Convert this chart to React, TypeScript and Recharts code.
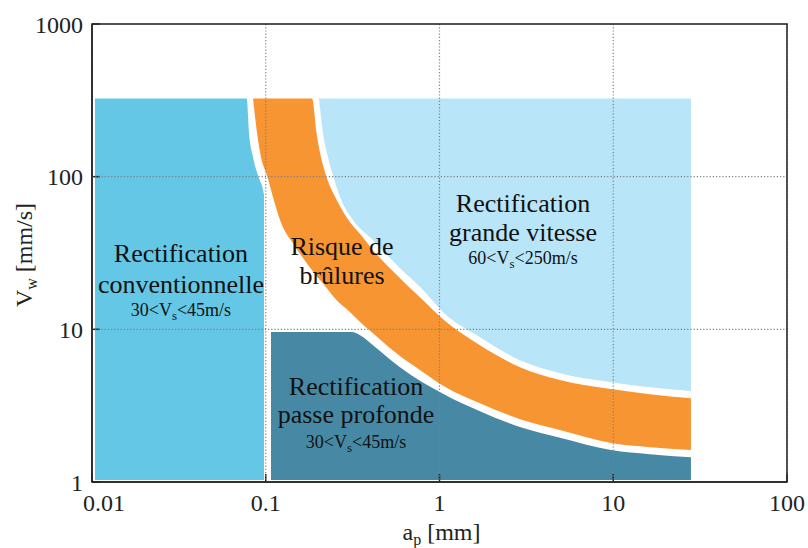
import {
  ComposedChart,
  Area,
  XAxis,
  YAxis,
  CartesianGrid,
  ReferenceArea,
  ReferenceDot,
} from "recharts";

const FONT = "'Liberation Serif', 'Times New Roman', serif";

// --- axes (log-log) ---
const apTicks = [0.01, 0.1, 1, 10, 100];
const vwTicks = [1, 10, 100, 1000];

// bottom / top of the coloured domains [mm/s]
const floorVw = 1.03;
const roofVw = 325;

// --- Rectification conventionnelle ---
const convAp = [0.0104, 0.0777, 0.0801, 0.0845, 0.0902, 0.0964, 0.0977];
const convTop = [325, 325, 193, 134, 102, 82, 76];

// --- Risque de brûlures (band) ---
const burnAp = [
  0.0845, 0.0891, 0.0939, 0.1017, 0.11, 0.1208, 0.147, 0.1846, 0.196, 0.208, 0.222, 0.256,
  0.305, 0.349, 0.414, 0.577, 0.804, 1.061, 1.71, 2.906, 4.937, 9.706, 16.27, 28,
];
const burnLow = [
  325, 193, 134, 102, 73.5, 52, 35.1, 24.4, 22.3, 20.7, 18.9, 15.5,
  13.0, 11.15, 9.44, 6.83, 5.24, 4.24, 3.28, 2.58, 2.19, 1.8, 1.69, 1.62,
];
const burnHigh = [
  325, 325, 325, 325, 325, 325, 325, 325, 193, 134, 102, 70.3,
  50.4, 42.1, 33.0, 22.3, 15.5, 11.5, 7.88, 5.65, 4.65, 4.06, 3.76, 3.54,
];

// --- Rectification grande vitesse ---
const fastAp = [
  0.2025, 0.2136, 0.2282, 0.2438, 0.2675, 0.3178, 0.414, 0.577, 0.804, 1.061, 1.71, 2.906,
  4.937, 9.706, 16.27, 28,
];
const fastLow = [325, 193, 134, 102, 73.5, 52, 38.4, 25.9, 18.1, 12.8, 8.89, 6.28, 5.16, 4.51, 4.18, 3.94];

// --- Rectification passe profonde ---
const deepAp = [0.1072, 0.3125, 0.349, 0.414, 0.592, 1.061, 1.71, 2.906, 4.937, 9.706, 16.27, 28];
const deepTop = [9.6, 9.6, 9.16, 7.88, 5.65, 3.76, 2.91, 2.29, 1.95, 1.62, 1.52, 1.45];

const convData = convAp.map((ap, i) => ({ ap, vw: [floorVw, convTop[i]] }));
const burnData = burnAp.map((ap, i) => ({ ap, vw: [burnLow[i], burnHigh[i]] }));
const fastData = fastAp.map((ap, i) => ({ ap, vw: [fastLow[i], roofVw] }));
const deepData = deepAp.map((ap, i) => ({ ap, vw: [floorVw, deepTop[i]] }));

const W = 808;
const H = 548;
const MARGIN = { top: 24, right: 21, left: 0, bottom: 0 };
const Y_AXIS_W = 92;
const X_AXIS_H = 66;

type TextLine = { text: string; sub?: string; rest?: string; small?: boolean; dy: number };

const regionLabel = (lines: TextLine[]) => (props: any) => {
  const vb = props.viewBox;
  const cx = vb.x + vb.width / 2;
  const cy = vb.y + vb.height / 2;
  return (
    <g>
      {lines.map((l, i) => (
        <text
          key={i}
          x={cx}
          y={cy + l.dy}
          textAnchor="middle"
          fontFamily={FONT}
          fontSize={l.small ? 18 : 26}
          fill="#111"
        >
          {l.text}
          {l.sub && (
            <tspan dy={4} fontSize={13}>
              {l.sub}
            </tspan>
          )}
          {l.rest && <tspan dy={-4}>{l.rest}</tspan>}
        </text>
      ))}
    </g>
  );
};

// first x label is pushed right so it clears the "1" of the y axis
const ApTick = (props: any) => {
  const v = props.payload.value;
  return (
    <text
      x={props.x + (v === apTicks[0] ? 12 : 0)}
      y={props.y}
      dy="0.71em"
      textAnchor="middle"
      fontFamily={FONT}
      fontSize={24}
      fill="#222"
    >
      {String(v)}
    </text>
  );
};

const areaProps = {
  type: "monotoneX" as const,
  fillOpacity: 1,
  stroke: "none",
  dot: false,
  activeDot: false,
  isAnimationActive: false,
};

export default function App() {
  return (
    <div style={{ position: "absolute", left: 0, top: 0, width: W, height: H, background: "#fff" }}>
      {/* base chart: axes and coloured domains */}
      <div style={{ position: "absolute", left: 0, top: 0, zIndex: 1 }}>
        <ComposedChart width={W} height={H} margin={MARGIN}>
          <XAxis
            type="number"
            dataKey="ap"
            scale="log"
            domain={[0.01, 100]}
            ticks={apTicks}
            allowDataOverflow
            height={X_AXIS_H}
            tickSize={-8}
            tickMargin={20}
            tickLine={{ stroke: "#222", strokeWidth: 1.5 }}
            axisLine={{ stroke: "#222", strokeWidth: 1.5 }}
            tick={ApTick}
            label={{
              content: (p: any) => (
                <text
                  x={p.viewBox.x + p.viewBox.width / 2 + 2}
                  y={p.viewBox.y + 58}
                  textAnchor="middle"
                  fontFamily={FONT}
                  fontSize={24}
                  fill="#222"
                >
                  a
                  <tspan dy={5} fontSize={16}>
                    p
                  </tspan>
                  <tspan dy={-5}> [mm]</tspan>
                </text>
              ),
            }}
          />
          <YAxis
            type="number"
            scale="log"
            domain={[1, 1000]}
            ticks={vwTicks}
            allowDataOverflow
            width={Y_AXIS_W}
            tickSize={-8}
            tickMargin={17}
            tickLine={{ stroke: "#222", strokeWidth: 1.5 }}
            axisLine={{ stroke: "#222", strokeWidth: 1.5 }}
            tick={{ fontSize: 24, fill: "#222", fontFamily: FONT }}
            label={{
              content: (p: any) => {
                const cy = p.viewBox.y + p.viewBox.height / 2 + 2;
                return (
                  <text
                    x={32}
                    y={cy}
                    transform={`rotate(-90, 32, ${cy})`}
                    textAnchor="middle"
                    fontFamily={FONT}
                    fontSize={24}
                    fill="#222"
                  >
                    V
                    <tspan dy={5} fontSize={16}>
                      w
                    </tspan>
                    <tspan dy={-5}> [mm/s]</tspan>
                  </text>
                );
              },
            }}
          />

          <Area data={convData} dataKey="vw" fill="#64c7e6" {...areaProps} />
          <Area data={burnData} dataKey="vw" fill="#f79532" {...areaProps} />
          <Area data={fastData} dataKey="vw" fill="#b9e5f9" {...areaProps} />
          <Area data={deepData} dataKey="vw" fill="#4789a5" {...areaProps} />
        </ComposedChart>
      </div>

      {/* overlay chart with the same scales: dotted grid, frame and region labels on top */}
      <div style={{ position: "absolute", left: 0, top: 0, zIndex: 2, pointerEvents: "none" }}>
        <ComposedChart
          width={W}
          height={H}
          margin={{ ...MARGIN, left: MARGIN.left + Y_AXIS_W, bottom: MARGIN.bottom + X_AXIS_H }}
        >
          <XAxis type="number" dataKey="ap" scale="log" domain={[0.01, 100]} ticks={apTicks} allowDataOverflow hide />
          <YAxis type="number" scale="log" domain={[1, 1000]} ticks={vwTicks} allowDataOverflow hide />
          <CartesianGrid stroke="#7f7f7f" strokeWidth={1.2} strokeDasharray="1.2 2" />
          <ReferenceArea x1={0.01} x2={100} y1={1} y2={1000} fill="none" stroke="#222" strokeWidth={1.5} ifOverflow="extendDomain" />

          <ReferenceDot
            x={0.0325}
            y={27.6}
            r={0.1}
            fill="none"
            stroke="none"
            label={{
              content: regionLabel([
                { text: "Rectification", dy: 0 },
                { text: "conventionnelle", dy: 31 },
                { text: "30<V", sub: "s", rest: "<45m/s", small: true, dy: 54 },
              ]),
            }}
          />
          <ReferenceDot
            x={0.2748}
            y={30.6}
            r={0.1}
            fill="none"
            stroke="none"
            label={{
              content: regionLabel([
                { text: "Risque de", dy: 0 },
                { text: "brûlures", dy: 29 },
              ]),
            }}
          />
          <ReferenceDot
            x={3.024}
            y={58.6}
            r={0.1}
            fill="none"
            stroke="none"
            label={{
              content: regionLabel([
                { text: "Rectification", dy: 0 },
                { text: "grande vitesse", dy: 29 },
                { text: "60<V", sub: "s", rest: "<250m/s", small: true, dy: 52 },
              ]),
            }}
          />
          <ReferenceDot
            x={0.3307}
            y={3.71}
            r={0.1}
            fill="none"
            stroke="none"
            label={{
              content: regionLabel([
                { text: "Rectification", dy: 0 },
                { text: "passe profonde", dy: 28 },
                { text: "30<V", sub: "s", rest: "<45m/s", small: true, dy: 53 },
              ]),
            }}
          />
        </ComposedChart>
      </div>
    </div>
  );
}
